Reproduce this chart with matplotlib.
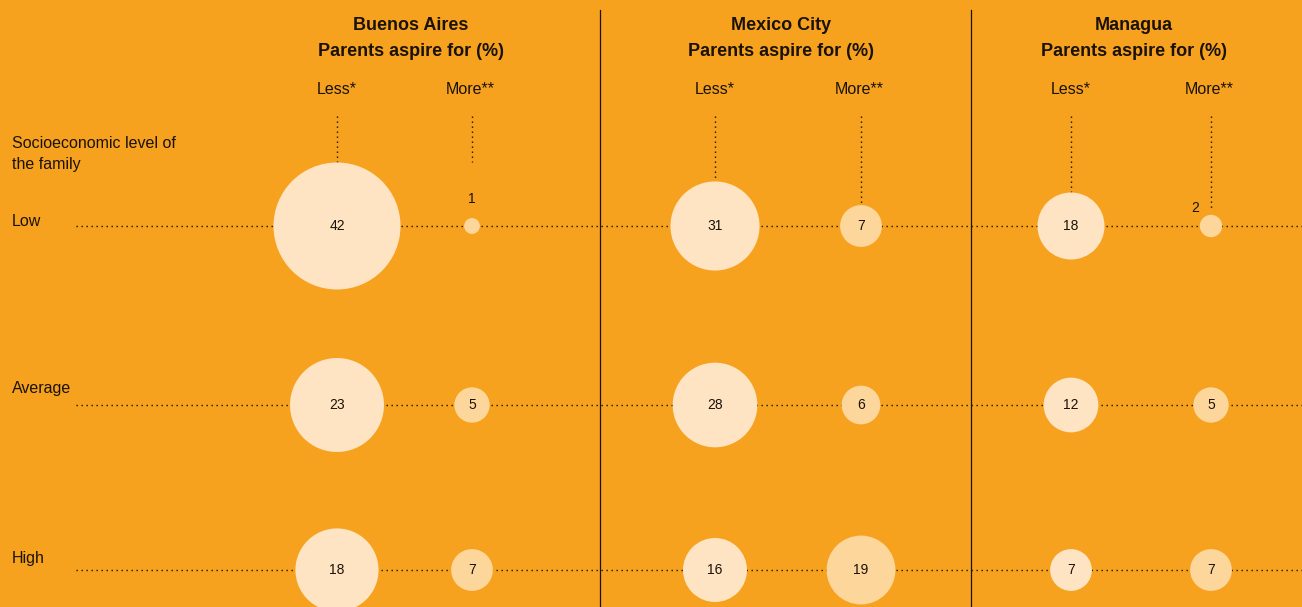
import numpy as np
import matplotlib.pyplot as plt

# Share of parents aspiring to less / more for their children, by socioeconomic level
cities = ["Buenos Aires", "Mexico City", "Managua"]
levels = ["Low", "Average", "High"]
less_pct = [[42, 23, 18], [31, 28, 16], [18, 12, 7]]
more_pct = [[1, 5, 7], [7, 6, 19], [2, 5, 7]]

# layout in pixel units (figure is 1302 x 607 px)
W, H = 1302, 607
title_x = [411, 781, 1134]
less_x = [337, 715, 1071]
more_x = [472, 861, 1211]
row_y = [226, 405, 570]
label_y = [221, 389, 558]
sep_x = [600, 971]
less_scale = [19.6, 16.0, 15.8]   # diameter px per sqrt(%)
more_scale = [15.8, 15.8, 15.8]

bg = "#F6A21E"
less_col = "#FEE4C3"
more_col = "#FDD69C"
ink = "#1a1208"

plt.rcParams["font.family"] = ["Liberation Sans", "DejaVu Sans"]

fig = plt.figure(figsize=(W / 100, H / 100), dpi=100, facecolor=bg)
ax = fig.add_axes([0, 0, 1, 1])
ax.set_facecolor(bg)
ax.set_xlim(0, W)
ax.set_ylim(H, 0)
ax.axis("off")

dots = (0, (1, 2.6))

# horizontal guides for each level
for y, yl, lvl in zip(row_y, label_y, levels):
    ax.plot([76, W], [y, y], color=ink, lw=1.0, ls=dots, zorder=1)
    ax.text(12, yl, lvl, fontsize=11.5, color=ink, va="center", ha="left")

ax.text(12, 144, "Socioeconomic level of", fontsize=11.5, color=ink, va="center")
ax.text(12, 165, "the family", fontsize=11.5, color=ink, va="center")

for x in sep_x:
    ax.plot([x, x], [10, H], color=ink, lw=0.9, zorder=1)


def diam(v, k):
    return k * np.sqrt(v)


for i, city in enumerate(cities):
    ax.text(title_x[i], 25, city, fontsize=13, fontweight="bold", color=ink, ha="center", va="center")
    ax.text(title_x[i], 52, "Parents aspire for (%)", fontsize=13, fontweight="bold", color=ink,
            ha="center", va="center")
    ax.text(less_x[i], 89, "Less*", fontsize=11.5, color=ink, ha="center", va="center")
    ax.text(more_x[i] - 2, 89, "More**", fontsize=11.5, color=ink, ha="center", va="center")

    for xs, vals, k, col in ((less_x[i], less_pct[i], less_scale[i], less_col),
                             (more_x[i], more_pct[i], more_scale[i], more_col)):
        d = np.array([diam(v, k) for v in vals])
        # marker size in points^2 from pixel diameter
        ax.scatter([xs] * 3, row_y, s=(d * 0.72) ** 2, color=col, edgecolors="none", zorder=3)
        top = row_y[0] - d[0] / 2
        if vals[0] <= 1:
            # tiny value: number sits above the dot
            ax.text(xs, row_y[0] - 27, str(vals[0]), fontsize=10, color=ink, ha="center", va="center", zorder=4)
            line_end = 162
        elif vals[0] <= 2:
            ax.text(xs - 16, row_y[0] - 18, str(vals[0]), fontsize=10, color=ink, ha="center", va="center", zorder=4)
            line_end = top - 6
        else:
            ax.text(xs, row_y[0], str(vals[0]), fontsize=10, color=ink, ha="center", va="center", zorder=4)
            line_end = top
        ax.plot([xs, xs], [116, line_end], color=ink, lw=1.0, ls=dots, zorder=2)
        for v, y in zip(vals[1:], row_y[1:]):
            ax.text(xs, y, str(v), fontsize=10, color=ink, ha="center", va="center", zorder=4)

fig.savefig("out.png", dpi=100, facecolor=bg)
